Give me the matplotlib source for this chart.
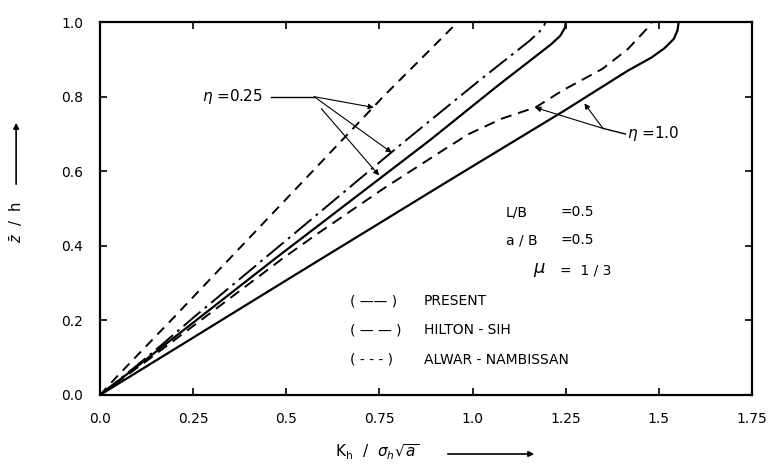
import matplotlib
matplotlib.use("Agg")
import matplotlib.pyplot as plt

plt.rcParams['font.family'] = ['DejaVu Sans']
plt.rcParams['lines.scale_dashes'] = False

# eta = 0.25 curves
alwar_025_x = [0, 0.045, 0.20, 0.39, 0.58, 0.76, 0.96]
alwar_025_y = [0, 0.049, 0.21, 0.41, 0.61, 0.80, 1.0]

hilton_025_x = [0, 0.10, 0.165, 0.25, 0.50, 0.81, 1.02, 1.153, 1.18, 1.193, 1.195]
hilton_025_y = [0, 0.08, 0.134, 0.207, 0.415, 0.674, 0.845, 0.95, 0.975, 0.993, 1.0]

present_025_x = [0, 0.10, 0.20, 0.469, 0.885, 1.063, 1.21, 1.235, 1.248, 1.25]
present_025_y = [0, 0.077, 0.155, 0.365, 0.683, 0.826, 0.94, 0.963, 0.985, 1.0]

# eta = 1.0 curves
alwar_10_x = [0, 0.13, 0.27, 0.49, 0.58, 0.76, 0.92, 0.99, 1.078, 1.17, 1.242, 1.349, 1.417, 1.475, 1.48]
alwar_10_y = [0, 0.095, 0.20, 0.366, 0.43, 0.553, 0.656, 0.70, 0.741, 0.772, 0.817, 0.875, 0.928, 0.99, 1.0]

present_10_x = [0, 0.52, 0.94, 1.242, 1.417, 1.48, 1.515, 1.54, 1.55, 1.553]
present_10_y = [0, 0.32, 0.577, 0.76, 0.87, 0.905, 0.93, 0.955, 0.978, 1.0]

xticks = [0, 0.25, 0.5, 0.75, 1.0, 1.25, 1.5, 1.75]
xtick_labels = ['0.0', '0.25', '0.5', '0.75', '1.0', '1.25', '1.5', '1.75']
yticks = [0, 0.2, 0.4, 0.6, 0.8, 1.0]
ytick_labels = ['0.0', '0.2', '0.4', '0.6', '0.8', '1.0']

fig = plt.figure(figsize=(7.68, 4.69), dpi=100)
ax = fig.add_axes([0.1302, 0.1578, 0.8490, 0.7950])

k = 'black'
ax.plot(alwar_025_x, alwar_025_y, color=k, lw=1.4, dashes=(7, 5))
ax.plot(hilton_025_x, hilton_025_y, color=k, lw=1.4, dashes=(16, 4, 2, 4))
ax.plot(present_025_x, present_025_y, color=k, lw=1.6)
ax.plot(alwar_10_x, alwar_10_y, color=k, lw=1.4, dashes=(8, 5))
ax.plot(present_10_x, present_10_y, color=k, lw=1.6)

ax.set_xlim(0, 1.75)
ax.set_ylim(0, 1.0)
ax.set_xticks(xticks)
ax.set_xticklabels(xtick_labels)
ax.set_yticks(yticks)
ax.set_yticklabels(ytick_labels)
ax.tick_params(direction='in', length=5, width=1.2, top=True, right=True,
               labelsize=10, pad=12)
for s in ax.spines.values():
    s.set_linewidth(1.6)

# eta = 0.25 label and arrows
ax.text(0.275, 0.80, r'$\eta$ =0.25', fontsize=11, va='center', ha='left')
ax.plot([0.46, 0.575], [0.80, 0.80], color=k, lw=1.0)
aprops = dict(arrowstyle='-|>', color=k, lw=0.8, mutation_scale=8, shrinkA=0, shrinkB=0)
ax.annotate('', xy=(0.735, 0.771), xytext=(0.575, 0.80), arrowprops=aprops)
ax.annotate('', xy=(0.783, 0.65), xytext=(0.575, 0.80), arrowprops=aprops)
ax.annotate('', xy=(0.749, 0.589), xytext=(0.594, 0.768), arrowprops=aprops)

# eta = 1.0 label and arrows
ax.text(1.415, 0.70, r'$\eta$ =1.0', fontsize=11, va='center', ha='left')
ax.plot([1.35, 1.41], [0.715, 0.70], color=k, lw=1.0)
ax.annotate('', xy=(1.168, 0.771), xytext=(1.35, 0.715), arrowprops=aprops)
ax.annotate('', xy=(1.30, 0.782), xytext=(1.35, 0.715), arrowprops=aprops)

# parameters
ax.text(1.09, 0.49, 'L/B', fontsize=10, va='center')
ax.text(1.235, 0.49, '=0.5', fontsize=10, va='center')
ax.text(1.09, 0.415, 'a / B', fontsize=10, va='center')
ax.text(1.235, 0.415, '=0.5', fontsize=10, va='center')
ax.text(1.163, 0.335, r'$\mu$', fontsize=13, va='center')
ax.text(1.235, 0.335, '=  1 / 3', fontsize=10, va='center')

# legend written as text
ax.text(0.671, 0.252, '( —— )', fontsize=10, va='center')
ax.text(0.869, 0.252, 'PRESENT', fontsize=10, va='center')
ax.text(0.671, 0.174, '( — — )', fontsize=10, va='center')
ax.text(0.869, 0.174, 'HILTON - SIH', fontsize=10, va='center')
ax.text(0.671, 0.094, '( - - - )', fontsize=10, va='center')
ax.text(0.869, 0.094, 'ALWAR - NAMBISSAN', fontsize=10, va='center')

# axis labels with arrows
fig.text(0.022, 0.525, r'$\bar{z}$  /  h', rotation=90, fontsize=10.5,
         ha='center', va='center')
fig.add_artist(matplotlib.patches.FancyArrowPatch(
    (0.021, 1 - 187 / 469), (0.021, 1 - 120 / 469), transform=fig.transFigure,
    arrowstyle='-|>', mutation_scale=8, color=k, lw=1.2))
fig.text(0.436, 0.035, r'$\mathrm{K_h}\ \ /\ \ \sigma_h\sqrt{a}$', fontsize=11,
         ha='left', va='center')
fig.add_artist(matplotlib.patches.FancyArrowPatch(
    (445 / 768, 1 - 454 / 469), (537 / 768, 1 - 454 / 469), transform=fig.transFigure,
    arrowstyle='-|>', mutation_scale=8, color=k, lw=1.2))

fig.savefig('out.png', dpi=100)
